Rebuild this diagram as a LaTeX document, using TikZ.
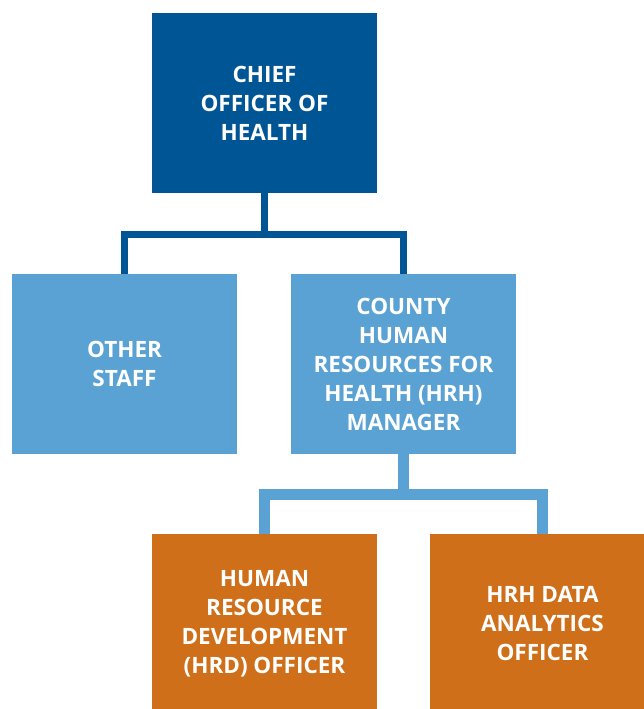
\documentclass[tikz,border=0pt]{standalone}
\usepackage{fontspec}
\setmainfont{Open Sans}
\usepackage{xcolor}
\usetikzlibrary{positioning}

\definecolor{chiefblue}{HTML}{005595}
\definecolor{staffblue}{HTML}{5AA2D3}
\definecolor{officerorange}{HTML}{CF6F1A}

\tikzset{
  orgbox/.style={minimum width=225pt, minimum height=180pt, inner sep=0pt,
    align=center, text=white, font=\bfseries\fontsize{22.5}{29}\selectfont},
}

\begin{document}
\begin{tikzpicture}[x=1pt, y=1pt]
    \useasboundingbox (0,0) rectangle (644,709);

      % boxes
      \node[orgbox, fill=chiefblue] (chief) at (264.5,606) {CHIEF\\OFFICER OF\\HEALTH};
      \node[orgbox, fill=staffblue] (other) at (124.5,345) {OTHER\\STAFF};
      \node[orgbox, fill=staffblue] (county) at (403.5,345) {COUNTY\\HUMAN\\RESOURCES FOR\\HEALTH (HRH)\\MANAGER};
      \node[orgbox, fill=officerorange] (hrd) at (264.5,85) {HUMAN\\RESOURCE\\DEVELOPMENT\\(HRD) OFFICER};
      \node[orgbox, fill=officerorange] (analytics) at (542.5,85) {HRH DATA\\ANALYTICS\\OFFICER};

      % connectors
      \coordinate (bus1) at (264.5,474.3);
      \coordinate (bus2) at (403.5,214.5);
      \draw[chiefblue, line width=7.5pt] (chief.south) -- (bus1);
      \draw[chiefblue, line width=7.5pt] (other.north) |- (bus1) -| (county.north);
      \draw[staffblue, line width=11pt] (county.south) -- (bus2);
      \draw[staffblue, line width=11pt] (hrd.north) |- (bus2) -| (analytics.north);
    \end{tikzpicture}
\end{document}
